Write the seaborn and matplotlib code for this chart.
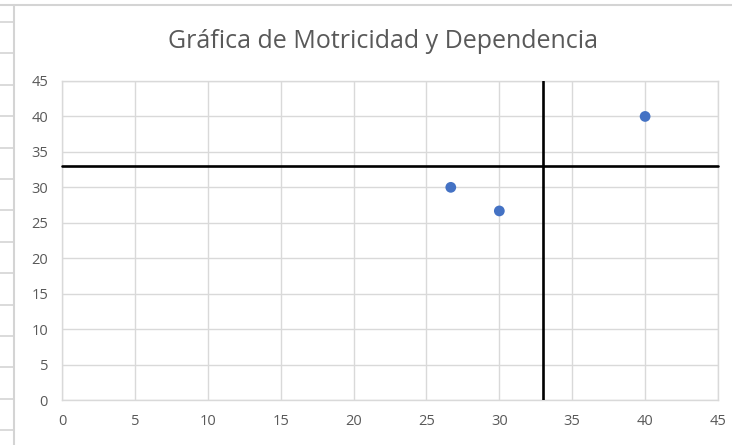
import matplotlib
matplotlib.use('Agg')
import matplotlib.pyplot as plt
import seaborn as sns
import pandas as pd
from matplotlib.lines import Line2D

# data
motricidad = [26.67, 30, 40]      # x
dependencia = [30, 26.67, 40]     # y
corte_x = 33                      # vertical divider
corte_y = 33                      # horizontal divider
eje_min, eje_max = 0, 45
ticks = list(range(0, 50, 5))
titulo = 'Gráfica de Motricidad y Dependencia'

df = pd.DataFrame({'x': motricidad, 'y': dependencia})

sns.set_style('white')
plt.rcParams['font.family'] = ['Open Sans', 'DejaVu Sans']

W, H = 732, 445
fig = plt.figure(figsize=(W / 100, H / 100), dpi=100)

# spreadsheet cells peeking out on the left
grid_col = '#D4D4D4'
for k in range(14):
    yy = 1 - (22 + 31.4 * k) / H
    fig.add_artist(Line2D([0, 14 / W], [yy, yy], color=grid_col, lw=1.2))
fig.add_artist(Line2D([0, 1], [1 - 5 / H, 1 - 5 / H], color=grid_col, lw=1.5))
fig.add_artist(Line2D([14 / W, 14 / W], [0, 1 - 5 / H], color=grid_col, lw=1.5))

ax = fig.add_axes([62 / W, 1 - 400 / H, (718 - 62) / W, (400 - 81) / H])

ax.plot([corte_x, corte_x], [eje_min, eje_max], color='black', lw=1.9, zorder=3)
ax.plot([eje_min, eje_max], [corte_y, corte_y], color='black', lw=1.9, zorder=3,
        clip_on=False)
sns.scatterplot(data=df, x='x', y='y', ax=ax, color='#4472C4', s=60,
                edgecolor='none', zorder=4)

ax.set_xlim(eje_min, eje_max)
ax.set_ylim(eje_min, eje_max)
ax.set_xticks(ticks)
ax.set_yticks(ticks)
ax.grid(True, color='#D9D9D9', lw=1)
ax.set_axisbelow(True)
for s in ax.spines.values():
    s.set_color('#D9D9D9')
    s.set_linewidth(1)
ax.tick_params(length=0, labelsize=10.5, labelcolor='#595959', pad=10)
ax.set_xlabel('')
ax.set_ylabel('')

fig.text(383 / W, 1 - 42 / H, titulo, ha='center', va='center',
         fontsize=18, color='#595959')

fig.savefig('out.png', dpi=100)
